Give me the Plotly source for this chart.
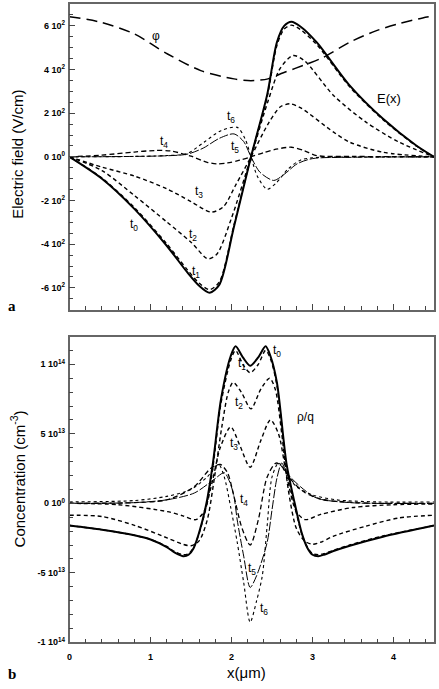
import plotly.graph_objects as go

# ---------------- Top panel: electric field (V/cm) ----------------
E_t0_x = [0, 0.4, 0.8, 1.2, 1.45, 1.6, 1.73, 1.85, 2.03, 2.24, 2.44, 2.56, 2.65, 2.74, 2.85, 3.05, 3.46, 3.87, 4.28, 4.5]
E_t0_y = [0, -100, -238, -407, -527, -590, -622, -585, -320, 0, 285, 525, 600, 619, 597, 525, 326, 174, 52, 0]
E_t1_y = [0, -97, -232, -398, -515, -578, -608, -572, -312, 0, 275, 510, 585, 603, 583, 515, 320, 170, 50, 0]

E_t2_x = [0, 0.4, 0.8, 1.2, 1.5, 1.71, 1.82, 2.0, 2.24, 2.45, 2.6, 2.76, 2.9, 3.26, 3.66, 4.07, 4.5]
E_t2_y = [0, -63, -177, -298, -391, -467, -445, -280, 0, 255, 405, 464, 440, 281, 159, 67, 0]

E_t3_x = [0, 0.4, 0.8, 1.2, 1.5, 1.75, 1.9, 2.05, 2.24, 2.45, 2.6, 2.72, 2.85, 3.26, 3.46, 3.87, 4.5]
E_t3_y = [0, -47, -88, -146, -205, -253, -228, -130, 0, 150, 228, 243, 225, 113, 67, 21, 0]

E_t4_x = [0, 0.4, 0.8, 1.05, 1.25, 1.5, 1.7, 1.82, 1.95, 2.1, 2.24, 2.4, 2.55, 2.74, 2.9, 3.05, 3.5, 4.0, 4.5]
E_t4_y = [0, 8, 22, 29, 27, 3, -25, -32, -28, -15, 0, 20, 35, 44, 28, 6, 2, 1, 0]

E_t5_x = [0, 0.8, 1.2, 1.45, 1.65, 1.85, 2.03, 2.15, 2.24, 2.35, 2.52, 2.65, 2.81, 3.0, 3.5, 4.5]
E_t5_y = [0, 2, 5, 12, 40, 85, 105, 70, 0, -70, -108, -80, -32, -8, -2, 0]

E_t6_x = [0, 0.8, 1.2, 1.45, 1.66, 1.87, 2.07, 2.17, 2.24, 2.32, 2.44, 2.55, 2.7, 2.85, 3.0, 3.5, 4.5]
E_t6_y = [0, 2, 6, 15, 67, 120, 135, 80, 0, -90, -148, -120, -55, -15, -4, -1, 0]

phi_x = [0, 0.39, 0.8, 1.21, 1.62, 2.03, 2.24, 2.45, 2.64, 2.93, 3.13, 3.46, 3.79, 4.07, 4.36, 4.5]
phi_y = [642, 616, 563, 471, 395, 357, 349, 357, 385, 425, 455, 525, 578, 610, 636, 645]

# ---------------- Bottom panel: rho/q (units of 1e13 cm^-3) ----------------
R_t0_x = [0, 0.4, 0.8, 1.0, 1.2, 1.3, 1.4, 1.47, 1.53, 1.6, 1.69, 1.77, 1.87, 1.99, 2.05, 2.14, 2.23, 2.33, 2.42, 2.48, 2.56, 2.68, 2.78, 2.87, 2.94, 3.0, 3.07, 3.14, 3.25, 3.46, 3.87, 4.5]
R_t0_y = [-1.6, -1.9, -2.3, -2.6, -3.15, -3.55, -3.8, -3.7, -3.25, -2.1, 0, 2.9, 7.5, 10.6, 11.3, 10.5, 9.9, 10.5, 11.3, 10.6, 8.7, 2.8, 0, -2.2, -3.25, -3.7, -3.8, -3.7, -3.45, -3.05, -2.4, -1.6]
R_t1_y = [-1.6, -1.9, -2.3, -2.6, -3.1, -3.48, -3.7, -3.62, -3.2, -2.15, -0.2, 2.6, 7.2, 10.3, 11.0, 10.0, 9.4, 10.0, 11.0, 10.4, 8.5, 2.6, -0.2, -2.25, -3.2, -3.62, -3.7, -3.62, -3.4, -3.0, -2.35, -1.6]

R_t2_x = [0, 0.4, 0.81, 1.21, 1.4, 1.5, 1.6, 1.7, 1.78, 1.88, 1.96, 2.02, 2.12, 2.24, 2.36, 2.47, 2.54, 2.62, 2.70, 2.80, 2.90, 3.0, 3.1, 3.26, 3.66, 4.07, 4.5]
R_t2_y = [-0.86, -0.95, -1.6, -2.5, -2.95, -3.05, -2.7, -1.2, 1.5, 5.5, 8.0, 8.7, 8.0, 6.8, 8.2, 9.0, 8.2, 5.0, 1.0, -1.8, -2.7, -2.95, -2.8, -2.36, -1.64, -1.05, -0.86]

R_t3_x = [0, 0.6, 1.21, 1.4, 1.56, 1.66, 1.76, 1.86, 1.99, 2.1, 2.23, 2.36, 2.48, 2.58, 2.68, 2.8, 2.91, 3.1, 3.5, 4.0, 4.5]
R_t3_y = [0, -0.1, -0.6, -0.9, -1.17, -0.6, 1.5, 4.0, 5.5, 4.2, 2.6, 4.5, 6.0, 5.0, 2.0, -0.6, -1.17, -0.8, -0.3, -0.1, -0.05]

R_t4_x = [0, 0.8, 1.21, 1.54, 1.74, 1.86, 1.95, 2.03, 2.13, 2.23, 2.33, 2.44, 2.55, 2.63, 2.75, 2.9, 3.1, 3.4, 3.8, 4.5]
R_t4_y = [0, 0.05, 0.26, 1.2, 2.5, 2.8, 2.2, 0.5, -1.8, -3.0, -1.2, 1.9, 2.9, 2.6, 1.6, 0.8, 0.3, 0.1, 0.0, 0.0]

R_t5_x = [0, 0.8, 1.21, 1.54, 1.78, 1.91, 1.98, 2.03, 2.07, 2.15, 2.23, 2.31, 2.44, 2.50, 2.56, 2.62, 2.68, 2.85, 3.05, 3.46, 4.5]
R_t5_y = [0, 0.05, 0.26, 0.74, 1.7, 2.2, 1.5, 0.5, -1.2, -3.8, -6.05, -5.2, -2.8, -0.45, 1.8, 2.9, 2.2, 1.2, 0.38, 0.05, 0]

R_t6_x = [0, 0.8, 1.2, 1.5, 1.7, 1.84, 1.91, 1.99, 2.07, 2.15, 2.23, 2.31, 2.38, 2.44, 2.50, 2.58, 2.66, 2.8, 3.0, 3.3, 3.8, 4.5]
R_t6_y = [0.1, 0.2, 0.5, 1.0, 1.9, 2.8, 1.9, -0.3, -2.8, -5.7, -8.55, -7.0, -5.2, -1.6, 1.9, 2.9, 2.3, 1.2, 0.6, 0.25, 0.1, 0.1]

# tick labels
E_tickvals = [-600, -400, -200, 0, 200, 400, 600]
E_ticktext = ["-6 10<sup>2</sup>", "-4 10<sup>2</sup>", "-2 10<sup>2</sup>", "0 10<sup>0</sup>",
              "2 10<sup>2</sup>", "4 10<sup>2</sup>", "6 10<sup>2</sup>"]
R_tickvals = [-10, -5, 0, 5, 10]
R_ticktext = ["-1 10<sup>14</sup>", "-5 10<sup>13</sup>", "0 10<sup>0</sup>", "5 10<sup>13</sup>", "1 10<sup>14</sup>"]
X_tickvals = [0, 1, 2, 3, 4]
X_ticktext = ["0", "1", "2", "3", "4"]

fig = go.Figure()

SOLID = dict(color="black", width=2)
DASH = dict(color="black", width=1.4, dash="4px,3px")
T4 = dict(color="black", width=1.3, dash="5px,3px")
T5 = dict(color="black", width=1.0, dash="9px,2px")
T6 = dict(color="black", width=1.1, dash="3px,3px")
PHI = dict(color="black", width=1.5, dash="11px,6px")

def add(x, y, line, axis):
    fig.add_trace(go.Scatter(x=x, y=y, mode="lines", line=dict(shape="spline", smoothing=0.8, **line),
                             xaxis="x" if axis == 1 else "x2", yaxis="y" if axis == 1 else "y2",
                             showlegend=False, hoverinfo="skip"))

add(phi_x, phi_y, PHI, 1)
add(E_t6_x, E_t6_y, T6, 1)
add(E_t5_x, E_t5_y, T5, 1)
add(E_t4_x, E_t4_y, T4, 1)
add(E_t3_x, E_t3_y, DASH, 1)
add(E_t2_x, E_t2_y, DASH, 1)
add(E_t0_x, E_t1_y, DASH, 1)
add(E_t0_x, E_t0_y, SOLID, 1)

add(R_t6_x, R_t6_y, T6, 2)
add(R_t5_x, R_t5_y, T5, 2)
add(R_t4_x, R_t4_y, T4, 2)
add(R_t3_x, R_t3_y, DASH, 2)
add(R_t2_x, R_t2_y, DASH, 2)
add(R_t0_x, R_t1_y, DASH, 2)
add(R_t0_x, R_t0_y, SOLID, 2)

W, H = 439, 689
xdom = [67 / W, 434 / W]
top_dom = [1 - 312 / H, 1 - 4 / H]
bot_dom = [1 - 647 / H, 1 - 339 / H]

axcommon = dict(showline=True, linecolor="#666", linewidth=1.5, mirror=True, ticks="inside",
                tickcolor="#444", ticklen=6, tickwidth=1, showgrid=False, zeroline=False,
                tickfont=dict(family="Arial, Liberation Sans", size=9, color="black", weight="bold"))

fig.update_layout(
    width=W, height=H, margin=dict(l=0, r=0, t=0, b=0),
    plot_bgcolor="white", paper_bgcolor="white",
    xaxis=dict(domain=xdom, range=[0, 4.5], anchor="y", tickvals=X_tickvals, showticklabels=False,
               minor=dict(tickmode="linear", tick0=0, dtick=0.2, ticks="inside", ticklen=3.5, tickcolor="#444"),
               **axcommon),
    yaxis=dict(domain=top_dom, range=[-700, 700], anchor="x", tickvals=E_tickvals, ticktext=E_ticktext,
               ticklabelstandoff=1,
               minor=dict(tickmode="linear", tick0=0, dtick=50, ticks="inside", ticklen=3.5, tickcolor="#444"),
               **axcommon),
    xaxis2=dict(domain=xdom, range=[0, 4.5], anchor="y2", tickvals=X_tickvals, ticktext=X_ticktext,
                ticklabelstandoff=5,
                minor=dict(tickmode="linear", tick0=0, dtick=0.2, ticks="inside", ticklen=3.5, tickcolor="#444"),
                **axcommon),
    yaxis2=dict(domain=bot_dom, range=[-10, 12], anchor="x2", tickvals=R_tickvals, ticktext=R_ticktext,
                ticklabelstandoff=1,
                minor=dict(tickmode="linear", tick0=0, dtick=1, ticks="inside", ticklen=3.5, tickcolor="#444"),
                **axcommon),
)

LF = dict(family="Arial, Liberation Sans", size=12, color="black")
def lab(text, x, y, axis, size=12):
    fig.add_annotation(text=text, x=x, y=y, xref="x" if axis == 1 else "x2", yref="y" if axis == 1 else "y2",
                       showarrow=False, font=dict(LF, size=size))

# top panel labels
lab("φ", 1.07, 555, 1)
lab("E(x)", 3.95, 265, 1, 13)
lab("t<sub>0</sub>", 0.80, -314, 1)
lab("t<sub>1</sub>", 1.56, -528, 1)
lab("t<sub>2</sub>", 1.52, -360, 1)
lab("t<sub>3</sub>", 1.60, -162, 1)
lab("t<sub>4</sub>", 1.17, 67, 1)
lab("t<sub>5</sub>", 2.04, 44, 1)
lab("t<sub>6</sub>", 1.99, 182, 1)

# bottom panel labels
lab("t<sub>0</sub>", 2.56, 10.98, 2)
lab("t<sub>1</sub>", 2.13, 10.0, 2)
lab("t<sub>2</sub>", 2.09, 7.2, 2)
lab("t<sub>3</sub>", 2.03, 4.3, 2)
lab("t<sub>4</sub>", 2.15, 0.26, 2)
lab("t<sub>5</sub>", 2.25, -4.7, 2)
lab("t<sub>6</sub>", 2.40, -7.6, 2)
lab("ρ/q", 2.91, 6.2, 2)

TF = dict(family="Arial, Liberation Sans", size=15, color="black")
def ptext(text, x, y, font, angle=0):
    fig.add_annotation(text=text, x=x / W, y=1 - y / H, xref="paper", yref="paper", xanchor="center",
                       yanchor="middle", textangle=angle, showarrow=False, font=font)

ptext("Electric field (V/cm)", 15, 155, TF, -90)
ptext("Concentration (cm<sup>-3</sup>)", 15, 482, TF, -90)
ptext("x(μm)", 245, 677, dict(TF, size=15))
SF = dict(family="Liberation Serif, Times New Roman", size=15, color="black")
ptext("<b>a</b>", 9, 308, SF)
ptext("<b>b</b>", 9, 679, SF)

fig.write_html("out.html")
